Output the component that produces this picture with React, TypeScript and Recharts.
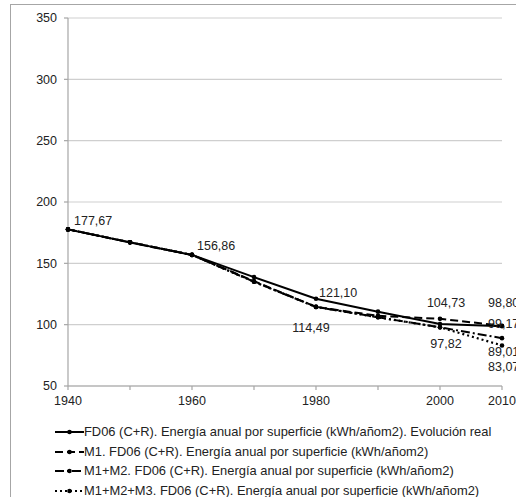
import React from 'react';
import { LineChart, Line, XAxis, YAxis, CartesianGrid, Legend, LabelList } from 'recharts';

const years = [1940, 1950, 1960, 1970, 1980, 1990, 2000, 2010];
const real = [177.67, 167.1, 156.86, 138.8, 121.1, 110.6, 100.5, 98.8];
const m1 = [177.67, 167.1, 156.86, 135.5, 114.49, 107.2, 104.73, 99.17];
const m1m2 = [177.67, 167.1, 156.86, 135.0, 114.49, 106.0, 97.82, 89.01];
const m1m2m3 = [177.67, 167.1, 156.86, 135.0, 114.49, 106.0, 97.82, 83.07];
const yTicks = [50, 100, 150, 200, 250, 300, 350];
const labeledYears = [1940, 1960, 1980, 2000, 2010];

const seriesNames = {
  real: 'FD06 (C+R). Energía anual por superficie (kWh/añom2). Evolución real',
  m1: 'M1. FD06 (C+R). Energía anual por superficie (kWh/añom2)',
  m1m2: 'M1+M2. FD06 (C+R). Energía anual por superficie (kWh/añom2)',
  m1m2m3: 'M1+M2+M3. FD06 (C+R). Energía anual por superficie (kWh/añom2)',
};

// which points carry a value label
const labelIdx: Record<string, number[]> = {
  real: [0, 2, 4, 7],
  m1: [6, 7],
  m1m2: [4, 6, 7],
  m1m2m3: [7],
};

const data = years.map((y, i) => ({ year: y, real: real[i], m1: m1[i], m1m2: m1m2[i], m1m2m3: m1m2m3[i] }));

const FONT = '"Liberation Sans", Arial, sans-serif';

// label offsets relative to the point: [dx, dy, anchor]
const place: Record<string, Record<number, [number, number, string]>> = {
  real: { 0: [6, -8, 'start'], 2: [5, -9, 'start'], 4: [3, -6, 'start'], 7: [-14, -23, 'start'] },
  m1: { 6: [6, -16, 'middle'], 7: [-14, -2, 'start'] },
  m1m2: { 4: [-5, 21, 'middle'], 6: [6, 17, 'middle'], 7: [-14, 14, 'start'] },
  m1m2m3: { 7: [-14, 22, 'start'] },
};

const makeLabel = (key: string) => (p: any) => {
  const i = p.index;
  if (!labelIdx[key].includes(i)) return null;
  const [dx, dy, anchor] = place[key][i];
  return (
    <text x={p.x + dx} y={p.y + dy} textAnchor={anchor} dominantBaseline="central"
      fontSize={12.5} fontFamily={FONT} fill="#222">
      {Number(p.value).toFixed(2).replace('.', ',')}
    </text>
  );
};

const styles: Record<string, { dash?: string; width: number }> = {
  real: { width: 2 },
  m1: { dash: '8 4', width: 2 },
  m1m2: { dash: '9 3 2 3', width: 2 },
  m1m2m3: { dash: '2 3', width: 2.2 },
};

const legendOrder = ['real', 'm1', 'm1m2', 'm1m2m3'];

const LegendContent = () => (
  <div style={{ fontFamily: FONT, fontSize: 12.9, lineHeight: '19.7px', color: '#222' }}>
    {legendOrder.map((k) => (
      <div key={k} style={{ position: 'relative', height: 19.7, whiteSpace: 'nowrap' }}>
        <svg width={29} height={10} style={{ position: 'absolute', left: 0, top: 5 }}>
          <line x1={0} y1={5} x2={29} y2={5} stroke="#000" strokeWidth={styles[k].width}
            strokeDasharray={styles[k].dash} />
          <circle cx={14.5} cy={5} r={2.3} fill="#000" />
        </svg>
        <span style={{ position: 'absolute', left: 29, top: 0 }}>{seriesNames[k as keyof typeof seriesNames]}</span>
      </div>
    ))}
  </div>
);

export default function App() {
  return (
    <div style={{ position: 'fixed', left: 0, top: 0, width: 516, height: 497, overflow: 'hidden', background: '#fff' }}>
      <div style={{ position: 'absolute', left: 10, top: 4, width: 600, height: 600, border: '1.5px solid #a6a6a6' }} />
      <div style={{ position: 'absolute', left: 0, top: 0 }}>
        <LineChart width={516} height={497} data={data}
          margin={{ top: 18, right: 14, left: 0, bottom: 81 }} style={{ overflow: 'visible' }}>
          <CartesianGrid vertical={false} stroke="#cfcfcf" strokeWidth={1.2} />
          <XAxis dataKey="year" type="number" domain={[1940, 2010]} ticks={years}
            tickFormatter={(v) => (labeledYears.includes(v) ? String(v) : '')}
            stroke="#a6a6a6" strokeWidth={1.2} tickSize={4} tickMargin={6} height={30}
            tick={{ fontSize: 12.5, fontFamily: FONT, fill: '#222' }} interval={0} />
          <YAxis domain={[50, 350]} ticks={yTicks} width={68} stroke="#a6a6a6" strokeWidth={1.2}
            tickSize={4} tickMargin={7} tick={{ fontSize: 12.5, fontFamily: FONT, fill: '#222' }}
            interval={0} />
          {['m1m2m3', 'm1m2', 'm1', 'real'].map((k) => (
            <Line key={k} dataKey={k} type="linear" stroke="#000" strokeWidth={styles[k].width}
              strokeDasharray={styles[k].dash} dot={{ r: 2.3, fill: '#000', stroke: '#000', strokeWidth: 0 }}
              activeDot={false} isAnimationActive={false}>
              <LabelList dataKey={k} content={makeLabel(k)} />
            </Line>
          ))}
          <Legend layout="horizontal" verticalAlign="middle" align="center"
            wrapperStyle={{ top: 422, left: 55, width: 470, height: 80 }} content={<LegendContent />} />
        </LineChart>
      </div>
    </div>
  );
}
